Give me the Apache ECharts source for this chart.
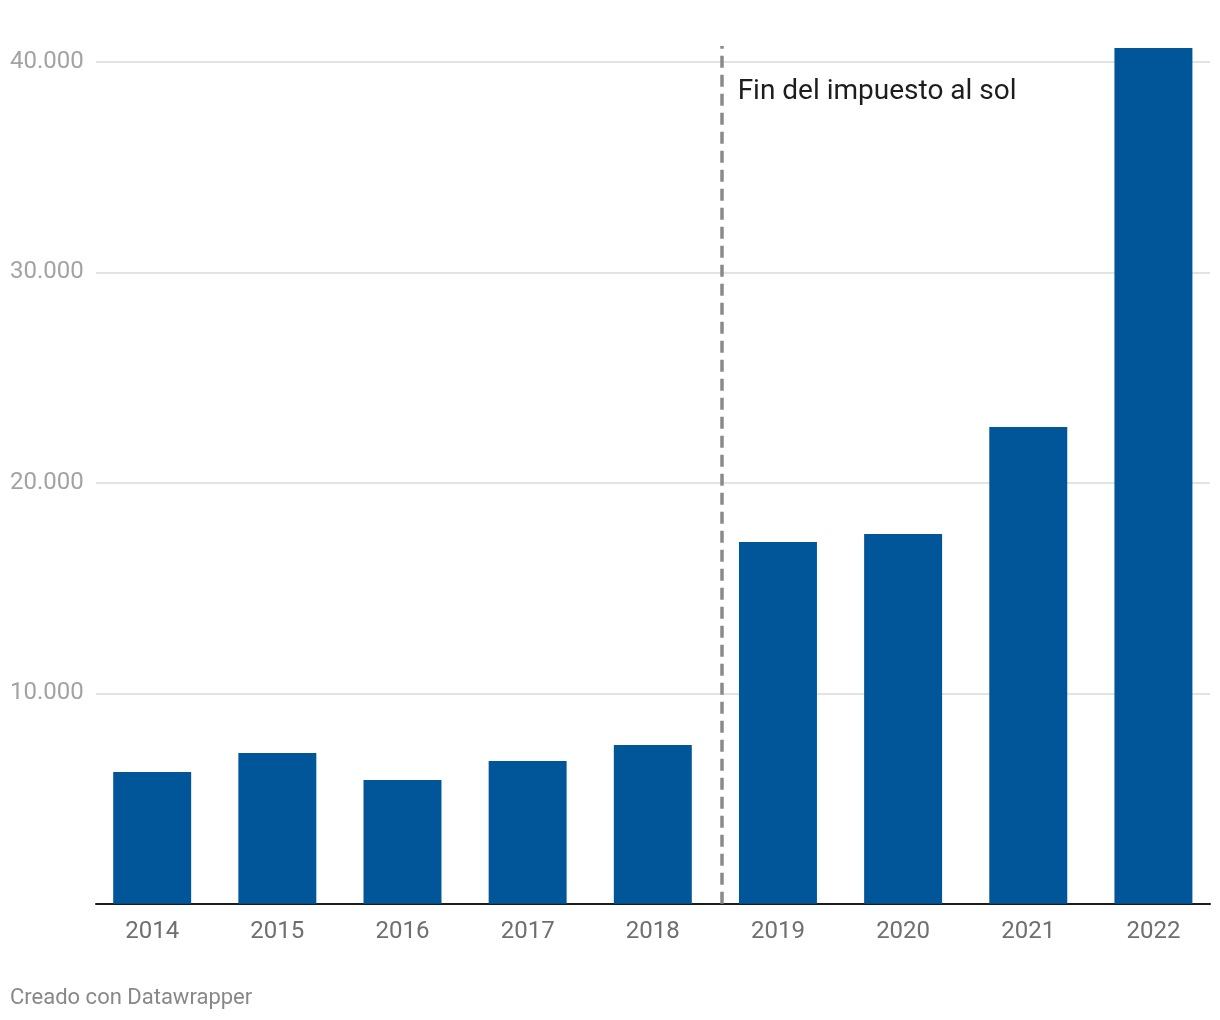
<!DOCTYPE html>
<html><head><meta charset="utf-8">
<script src="https://cdn.jsdelivr.net/npm/echarts@6/dist/echarts.min.js"></script>
<style>html,body{margin:0;padding:0;background:#fff}#c{width:1220px;height:1020px}</style>
</head><body><div id="c"></div>
<script>
const years = ['2014','2015','2016','2017','2018','2019','2020','2021','2022'];
const values = [6260, 7170, 5880, 6790, 7550, 17190, 17570, 22660, 40660];
const yTicks = [0, 10000, 20000, 30000, 40000];
const annotationText = 'Fin del impuesto al sol';
const annotationX = 4.55;      // between 2018 and 2019 (category index units)
const annotationTop = 40760;   // top of dashed line in value units
const footer = 'Creado con Datawrapper';

const fmt = v => v === 0 ? '' : v.toLocaleString('de-DE');
const chart = echarts.init(document.getElementById('c'), null, {renderer:'canvas'});
const FONT = 'Roboto';
chart.setOption({
  animation:false,
  backgroundColor:'#fff',
  textStyle:{fontFamily:FONT},
  grid:[
    {left:96, right:10, top:62, bottom:116.2, containLabel:false},
    {left:89.6, right:4.0, top:19.9, bottom:116.2, containLabel:false}
  ],
  xAxis:[
    {gridIndex:0, type:'value', min:0, max:1, show:true,
     axisLine:{show:true, onZero:false, lineStyle:{color:'#1d1d1d', width:2}},
     axisTick:{show:false}, axisLabel:{show:false}, splitLine:{show:false}},
    {gridIndex:1, type:'category', data:years,
     axisLine:{show:false}, axisTick:{show:false},
     axisLabel:{color:'#6f6f6f', fontSize:24, margin:16, fontFamily:FONT}},
    {gridIndex:1, type:'value', min:-0.5, max:8.5, show:false}
  ],
  yAxis:[
    {gridIndex:0, type:'value', min:0, max:40000, interval:10000,
     axisLine:{show:false}, axisTick:{show:false},
     axisLabel:{color:'#a3a3a3', fontSize:24, align:'left', margin:86, fontFamily:FONT,
       padding:[3,0,0,0],
       formatter: v => yTicks.includes(v) ? fmt(v) : ''},
     splitLine:{show:true, lineStyle:{color:'#e3e3e3', width:2}}},
    {gridIndex:1, type:'value', min:0, max:42000, show:false}
  ],
  series:[
    {type:'bar', xAxisIndex:1, yAxisIndex:1, data:values, barWidth:'62.3%',
     itemStyle:{color:'#01569a'}},
    {type:'line', xAxisIndex:2, yAxisIndex:1, data:[], silent:true,
     markLine:{symbol:'none', silent:true, label:{show:false},
       lineStyle:{color:'#8a8a8a', width:3.5, type:[12,7]},
       data:[[{coord:[annotationX, 0]},{coord:[annotationX, annotationTop]}]]}}
  ]
});
const p = chart.convertToPixel({xAxisIndex:2, yAxisIndex:1}, [annotationX, 0]);
chart.setOption({
  graphic:[
    {type:'text', left:p[0]+16, top:78, style:{text:annotationText, fill:'#1d1d1d', font:'28px Roboto'}},
    {type:'text', left:10, top:987, style:{text:footer, fill:'#888888', font:'22px Roboto'}}
  ]
});
</script></body></html>
